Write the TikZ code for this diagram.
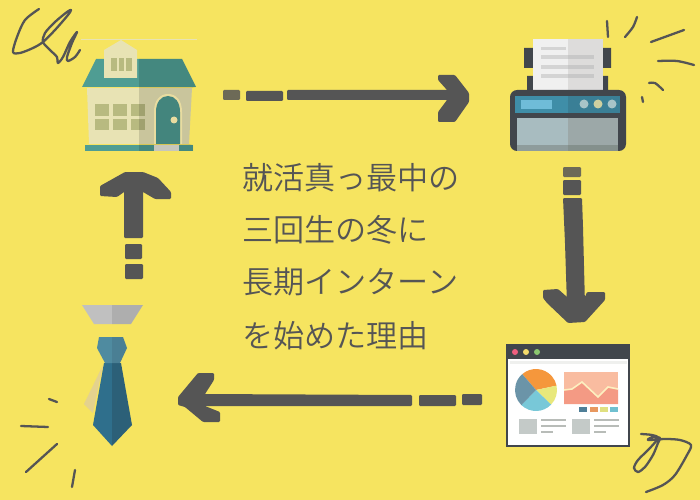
\documentclass[tikz,border=0pt]{standalone}
\usepackage{fontspec}
\newfontfamily\cjk{Noto Sans CJK JP DemiLight}
\definecolor{ink}{HTML}{555555}
\definecolor{paper}{HTML}{F6E460}
\definecolor{roof}{HTML}{4F9D93}
\definecolor{cream}{HTML}{E8E3B4}
\definecolor{pane}{HTML}{B8BA80}
\definecolor{steel}{HTML}{41464C}
\definecolor{doorframe}{HTML}{E8DCA0}
\definecolor{sheetl}{HTML}{F0F0F0}
\definecolor{sheetr}{HTML}{DDDCDB}
\definecolor{rowl}{HTML}{D4D4D4}
\definecolor{rowr}{HTML}{C8C8C8}
\definecolor{panell}{HTML}{3F8EA8}
\definecolor{panelr}{HTML}{3A7F96}
\definecolor{display}{HTML}{6FBCD8}
\definecolor{knob}{HTML}{A8C4C8}
\definecolor{knobmid}{HTML}{CFD0A0}
\definecolor{trayl}{HTML}{A8BCC0}
\definecolor{trayr}{HTML}{9CA8A8}
\definecolor{lipl}{HTML}{8E9C9C}
\definecolor{lipr}{HTML}{84908C}
\definecolor{addr}{HTML}{EFF0EE}
\definecolor{dotred}{HTML}{EF5F7F}
\definecolor{dotyel}{HTML}{F5DC6C}
\definecolor{dotgrn}{HTML}{8CC870}
\definecolor{pieor}{HTML}{F5973C}
\definecolor{pieyl}{HTML}{E8E87C}
\definecolor{piecy}{HTML}{78C8D8}
\definecolor{piebl}{HTML}{6B94A8}
\definecolor{charttop}{HTML}{F9BCA0}
\definecolor{chartlow}{HTML}{F49A84}
\definecolor{chartline}{HTML}{FDF0C0}
\definecolor{keya}{HTML}{4F7F98}
\definecolor{keyb}{HTML}{E89860}
\definecolor{keyc}{HTML}{E0E080}
\definecolor{keyd}{HTML}{70C0D0}
\definecolor{thumb}{HTML}{C4CAC8}
\definecolor{rule}{HTML}{B8BCB8}
\definecolor{collarl}{HTML}{C0C0C0}
\definecolor{collarr}{HTML}{AEAEAE}
\definecolor{shirt}{HTML}{E4D28E}
\definecolor{bladel}{HTML}{2F6F8C}
\definecolor{blader}{HTML}{2C6078}
\definecolor{knotl}{HTML}{4F8BA0}
\definecolor{knotr}{HTML}{4A7F94}
\definecolor{stepgray}{HTML}{C6C6BC}
\tikzset{
  scribble/.style={draw=ink,line width=1.3pt,line cap=round,line join=round},
  arrowpart/.style={fill=ink,rounded corners=0.6pt},
  caption/.style={anchor=west,text=ink,inner sep=0pt,font=\cjk\fontsize{17.7}{20}\selectfont}
}
\begin{document}
\begin{tikzpicture}[x=0.02cm,y=-0.02cm]
  \fill[paper] (0,0) rectangle (700,500);
  \useasboundingbox (0,0) rectangle (700,500);

  % house
  \draw[cream,line width=0.4pt] (81,39) -- (197,39);
  \fill[cream] (87,88) -- (192,88) -- (189,144) -- (89,144) -- cycle;
  \fill[roof] (82,87) -- (96,59) -- (182,59) -- (196,87) -- cycle;
  \fill[roof] (85,145) rectangle (193,151);
  \foreach \wx in {95,113,131}
    \foreach \wy/\wh in {104/116,119/130}
      \fill[pane] (\wx,\wy) rectangle (\wx+14,\wh);
  \fill[black,opacity=0.13] (139,59) -- (182,59) -- (196,87) -- (192,88) -- (189,144) -- (193,145) -- (193,151) -- (139,151) -- cycle;
  \fill[cream] (104,50) -- (121,40) -- (137,50) -- (137,78) -- (104,78) -- cycle;
  \foreach \wx in {111,118.5,126}
    \fill[pane] (\wx,58.5) rectangle (\wx+5.5,71);
  \fill[doorframe] (154,144) -- (154,112) .. controls (154,100) and (160,94) .. (168,94) .. controls (176,94) and (182,100) .. (182,112) -- (182,144) -- cycle;
  \fill[roof!85!black] (156,144) -- (156,112) .. controls (156,102) and (161,96) .. (168,96) .. controls (175,96) and (180,102) .. (180,112) -- (180,144) -- cycle;
  \fill[doorframe] (174,120) circle[radius=3.5];
  \fill[stepgray] (154,145) rectangle (179,151);

  % printer
  \fill[steel] (527,76) rectangle (533,90) (603,76) rectangle (608,90);
  \fill[steel] (524,48) rectangle (533,68) (603,48) rectangle (611,68);
  \fill[sheetl] (533,39) rectangle (568,90);
  \fill[sheetr] (568,39) rectangle (603,90);
  \fill[rowl] (541,47) rectangle (566,50);
  \foreach \ly in {55,65,74} {
    \fill[rowl] (541,\ly) rectangle (568,\ly+4);
    \fill[rowr] (568,\ly) rectangle (594,\ly+4);
  }
  \fill[steel,rounded corners=4pt] (510,90) rectangle (626,151);
  \fill[panell] (515,96) rectangle (568,113);
  \fill[panelr] (568,96) rectangle (620,113);
  \fill[display] (521,100) rectangle (552,109);
  \fill[knob] (584,104) circle[radius=4.5] (612,104) circle[radius=4.5];
  \fill[knobmid] (598,104) circle[radius=4.5];
  \fill[trayl] (517,118) rectangle (568,145);
  \fill[trayr] (568,118) rectangle (618,145);
  \fill[lipl] (517,145) rectangle (568,151);
  \fill[lipr] (568,145) rectangle (618,151);

  % browser
  \fill[steel] (506,344) rectangle (630,447);
  \fill[white] (508,359) rectangle (628,445);
  \fill[addr] (510,361) rectangle (627,364);
  \fill[dotred] (515,352) circle[radius=3];
  \fill[dotyel] (526,352) circle[radius=3];
  \fill[dotgrn] (537,352) circle[radius=3];
  \fill[pieor] (536,390) -- ++(-131:21) arc[start angle=-131,end angle=-12,radius=21] -- cycle;
  \fill[pieyl] (536,390) -- ++(-12:21) arc[start angle=-12,end angle=44,radius=21] -- cycle;
  \fill[piecy] (536,390) -- ++(44:21) arc[start angle=44,end angle=134,radius=21] -- cycle;
  \fill[piebl] (536,390) -- ++(134:21) arc[start angle=134,end angle=229,radius=21] -- cycle;
  \fill[charttop] (564,372) rectangle (618,404);
  \fill[chartlow] (564,390) -- (572,389) -- (582,382) -- (598,397) -- (608,387) -- (618,389) -- (618,404) -- (564,404) -- cycle;
  \draw[chartline,line width=0.9pt] (564,390) -- (572,389) -- (582,382) -- (598,397) -- (608,387) -- (618,389);
  \foreach \lx/\lc in {579/keya,590/keyb,600/keyc,610/keyd}
    \fill[\lc] (\lx,407) rectangle (\lx+8,412);
  \foreach \bx in {0,53} {
    \fill[thumb] (519+\bx,419) rectangle (537+\bx,434);
    \draw[rule,line width=0.9pt] (541+\bx,420) -- (566+\bx,420) (541+\bx,426) -- (566+\bx,426) (541+\bx,432) -- (553+\bx,432);
  }

  % tie
  \fill[collarl] (82,305) -- (112,305) -- (112,324) -- (94,324) -- cycle;
  \fill[collarr] (112,305) -- (143,305) -- (131,324) -- (112,324) -- cycle;
  \fill[shirt] (103,365) -- (84,404) -- (93,413) -- cycle;
  \fill[bladel] (104,363) -- (112,363) -- (112,446) -- (93,425) -- cycle;
  \fill[blader] (112,363) -- (121,363) -- (132,425) -- (112,446) -- cycle;
  \fill[knotl] (99,337) -- (112,337) -- (112,363) -- (105,363) -- (97,348) -- cycle;
  \fill[knotr] (112,337) -- (123,337) -- (127,348) -- (120,363) -- (112,363) -- cycle;

  % arrows
  \fill[arrowpart,fill=ink!85!paper] (223,90) rectangle (240,100);
  \fill[arrowpart] (246,91) rectangle (283,101);
  \fill[arrowpart] (287,90) -- (455,90) -- (455,100) -- (287,100) -- cycle;
  \fill[arrowpart] (438,75) -- (455,75) -- (469,93) -- (469,102) -- (455,122) -- (438,122) -- (438,112) -- (447,100) -- (447,90) -- (438,80) -- cycle;

  \fill[arrowpart,fill=ink!85!paper] (563,167) rectangle (581,177);
  \fill[arrowpart] (563,180) rectangle (581,195);
  \fill[arrowpart] (563,198) -- (582,198) -- (583,227) -- (585,305) -- (567,305) -- (565,243) -- cycle;
  \fill[arrowpart] (543,290) -- (558,289) -- (567,297) -- (585,297) -- (587,292) -- (605,292) -- (605,300) -- (585,322) -- (568,323) -- (547,303) -- (543,298) -- cycle;

  \fill[arrowpart] (462,394) rectangle (482,405);
  \fill[arrowpart] (419,395) rectangle (456,406);
  \fill[arrowpart] (412,395) -- (200,394) -- (200,406) -- (412,406) -- cycle;
  \fill[arrowpart] (198,373) -- (214,373) -- (214,380) -- (205,394) -- (205,406) -- (220,412) -- (220,422) -- (203,422) -- (185,407) -- (178,405) -- (178,397) -- cycle;

  \fill[arrowpart] (125,264) rectangle (143,279);
  \fill[arrowpart] (125,244) rectangle (142,259);
  \fill[arrowpart] (124,185) rectangle (143,238);
  \fill[arrowpart] (125,172) -- (143,172) -- (158,178) -- (171,192) -- (171,199) -- (155,199) -- (143,192) -- (124,192) -- (117,197) -- (100,196) -- (100,186) -- cycle;

  % scribbles
  \draw[scribble] plot[smooth] coordinates {(39,9) (25,20) (17,37) (13,52) (20,53) (33,48) (43,42) (55,30) (68,15) (71,10) (67,12) (55,22) (45,33) (43,42) (50,50) (57,57) (58,63) (63,57) (70,42) (77,32) (72,43) (67,57) (68,61) (75,57) (80,50)};
  \draw[scribble] (607,21) -- (608,37);
  \draw[scribble] plot[smooth] coordinates {(637,17) (633,27) (625,37)};
  \draw[scribble] (651,42) -- (684,30);
  \draw[scribble] plot[smooth] coordinates {(658,61) (677,61) (694,65)};
  \draw[scribble] plot[smooth] coordinates {(649,83) (655,83) (663,90)};
  \draw[scribble] (642,97) -- (643,102);
  \draw[scribble] plot[smooth] coordinates {(641,434) (652,435) (658,438) (650,448) (638,460) (634,468) (638,472) (645,467) (653,455) (658,443) (660,438) (653,437) (648,440) (665,439) (680,440) (691,445) (687,455) (675,475) (663,485) (646,492)};
  \draw[scribble] (49,399) -- (57,402);
  \draw[scribble] (21,426) -- (48,427);
  \draw[scribble] (57,444) -- (26,472);
  \draw[scribble] (75,470) -- (72,487);

  % caption
  \node[caption] (lineone) at (242,178) {就活真っ最中の};
  \node[caption] (linetwo) at (242,230) {三回生の冬に};
  \node[caption] (linethree) at (242,282) {長期インターン};
  \node[caption] (linefour) at (242,336) {を始めた理由};
\end{tikzpicture}
\end{document}
